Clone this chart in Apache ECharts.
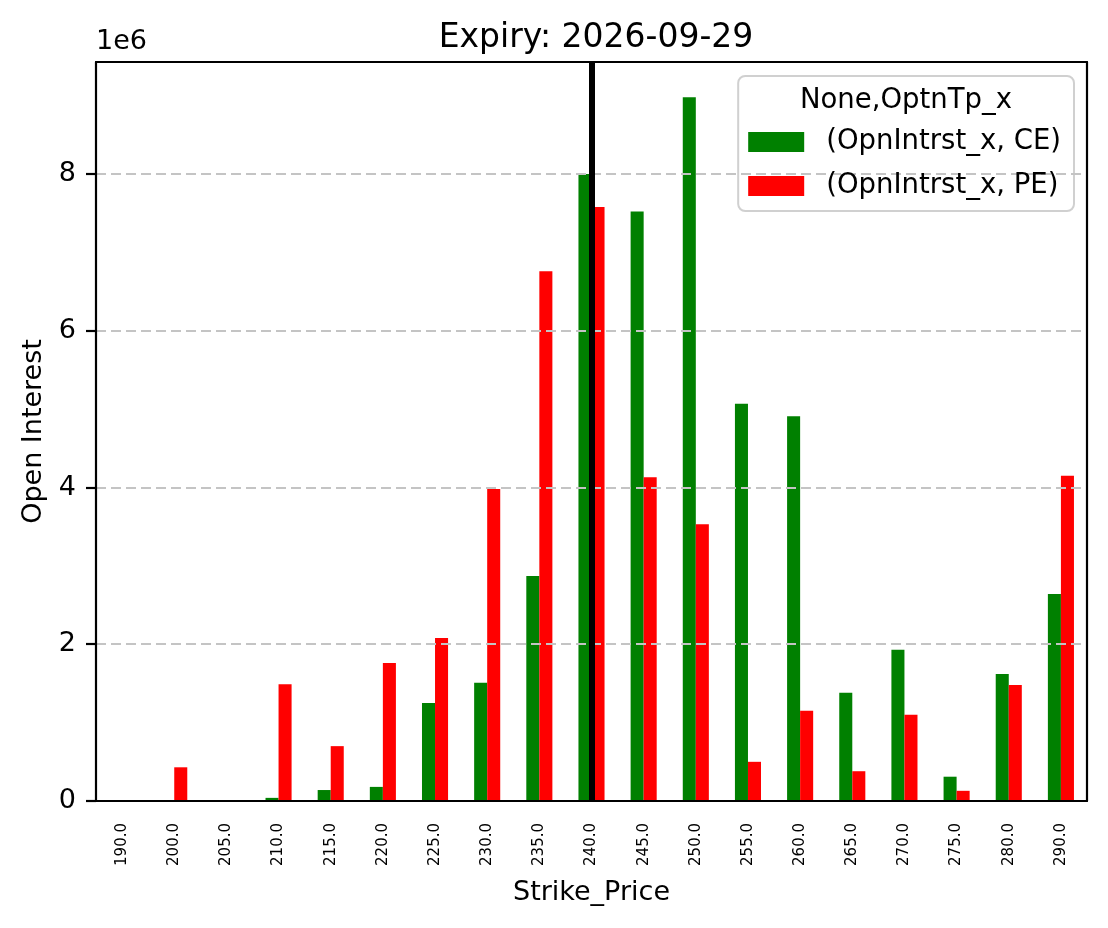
<!DOCTYPE html>
<html>
<head>
<meta charset="utf-8">
<title>Expiry: 2026-09-29</title>
<script src="https://cdn.jsdelivr.net/npm/echarts@6/dist/echarts.min.js"></script>
<style>
  html, body { margin: 0; padding: 0; background: #fff; }
  #chart { width: 1108px; height: 928px; }
</style>
</head>
<body>
<div id="chart"></div>
<script>
const strikes = ["190.0", "200.0", "205.0", "210.0", "215.0", "220.0", "225.0", "230.0", "235.0", "240.0",
  "245.0", "250.0", "255.0", "260.0", "265.0", "270.0", "275.0", "280.0", "290.0"];

// open interest, millions
const ceOI = [0, 0, 0, 0.04, 0.14, 0.18, 1.25, 1.51, 2.87, 8.0,
  7.52, 8.98, 5.07, 4.91, 1.38, 1.93, 0.31, 1.62, 2.64];
const peOI = [0, 0.43, 0, 1.49, 0.70, 1.76, 2.08, 3.98, 6.76, 7.58,
  4.13, 3.53, 0.50, 1.15, 0.38, 1.10, 0.13, 1.48, 4.15];

const spotStrike = "240.0";
const yTicks = [0, 2, 4, 6, 8];

const font = "DejaVu Sans";
const chart = echarts.init(document.getElementById("chart"));

// matplotlib pads the top by 5%
const yMax = Math.max(...ceOI, ...peOI) * 1.05 * 1e6;

const blackLine = { color: "#000", width: 2.2 };

chart.setOption({
  animation: false,
  backgroundColor: "#fff",
  textStyle: { fontFamily: font },
  title: {
    text: "Expiry: 2026-09-29",
    left: 591,
    top: 17,
    textAlign: "center",
    textStyle: { fontFamily: font, fontSize: 33, fontWeight: "normal", color: "#000" },
  },
  grid: { left: 96, right: 21, top: 62, bottom: 127, show: false },
  legend: {
    data: ["(OpnIntrst_x, CE)", "(OpnIntrst_x, PE)"],
    orient: "vertical",
    right: 34,
    top: 76,
    padding: [51, 13, 10, 10],
    itemWidth: 56,
    itemHeight: 20,
    itemGap: 14,
    backgroundColor: "rgba(255,255,255,0.8)",
    borderColor: "#d0d0d0",
    borderWidth: 2,
    borderRadius: 7,
    icon: "rect",
    textStyle: { fontFamily: font, fontSize: 27.5, color: "#000", lineHeight: 30, padding: [0, 0, 0, 17] },
  },
  graphic: [
    {
      type: "text", left: 96, top: 28, z: 10,
      style: { text: "1e6", font: "27px 'DejaVu Sans'", fill: "#000" },
    },
    {
      type: "text", x: 906, y: 101, z: 10,
      style: { text: "None,OptnTp_x", font: "27.5px 'DejaVu Sans'", fill: "#000",
        align: "center", verticalAlign: "middle" },
    },
  ],
  xAxis: [
    {
      type: "category",
      data: strikes,
      boundaryGap: true,
      name: "Strike_Price",
      nameLocation: "middle",
      nameGap: 78,
      nameTextStyle: { fontFamily: font, fontSize: 27, color: "#000" },
      axisLine: { lineStyle: blackLine },
      axisTick: { alignWithLabel: true, length: 10, lineStyle: blackLine },
      axisLabel: { rotate: 90, margin: 22, fontSize: 15, color: "#000", fontFamily: font, interval: 0 },
      splitLine: { show: false },
      z: 5,
    },
    {
      // top spine
      type: "category",
      position: "top",
      data: strikes,
      axisLine: { show: true, onZero: false, lineStyle: blackLine },
      axisTick: { show: false },
      axisLabel: { show: false },
      splitLine: { show: false },
      z: 10,
    },
  ],
  yAxis: [
    {
      type: "value",
      min: 0,
      max: yMax,
      interval: 2e6,
      name: "Open Interest",
      nameLocation: "middle",
      nameGap: 49,
      nameTextStyle: { fontFamily: font, fontSize: 27, color: "#000" },
      axisLine: { show: true, lineStyle: blackLine },
      axisTick: { show: true, length: 10, lineStyle: blackLine },
      axisLabel: {
        margin: 20, fontSize: 27, color: "#000", fontFamily: font,
        showMaxLabel: false,
        formatter: (v) => (yTicks.includes(Math.round(v / 1e6 * 1000) / 1000) ? String(v / 1e6) : ""),
      },
      splitLine: { show: true, lineStyle: { color: "#c4c4c4", width: 2, type: [10, 5] } },
      z: 4,
    },
    {
      // right spine
      type: "value",
      position: "right",
      min: 0,
      max: 1,
      axisLine: { show: true, onZero: false, lineStyle: blackLine },
      axisTick: { show: false },
      axisLabel: { show: false },
      splitLine: { show: false },
      z: 10,
    },
  ],
  series: [
    {
      name: "(OpnIntrst_x, CE)",
      type: "bar",
      data: ceOI.map((v) => v * 1e6),
      barWidth: "25%",
      barGap: "0%",
      itemStyle: { color: "#008000" },
    },
    {
      name: "(OpnIntrst_x, PE)",
      type: "bar",
      data: peOI.map((v) => v * 1e6),
      barWidth: "25%",
      barGap: "0%",
      itemStyle: { color: "#ff0000" },
    },
    {
      name: "spot",
      type: "line",
      data: [],
      markLine: {
        silent: true,
        symbol: "none",
        label: { show: false },
        lineStyle: { color: "#000", width: 6, type: "solid" },
        data: [{ xAxis: spotStrike }],
      },
    },
  ],
});
</script>
</body>
</html>
